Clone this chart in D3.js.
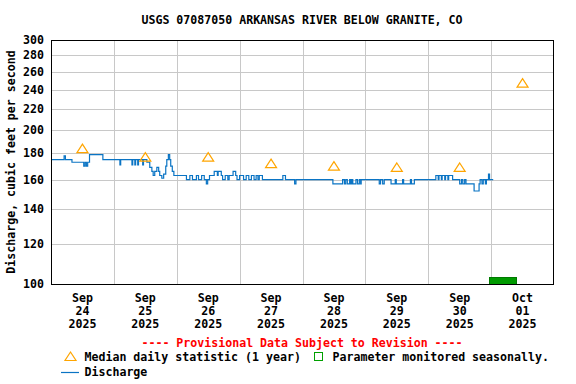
<!DOCTYPE html>
<html>
<head>
<meta charset="utf-8">
<script src="https://cdn.jsdelivr.net/npm/d3@7"></script>
<style>
  body { margin: 0; background: #fff; }
  text { font-family: "DejaVu Sans Mono", monospace; font-weight: bold; font-size: 11.6px; }
</style>
</head>
<body>
<div id="chart"></div>
<script>
const width = 576
const height = 384

// hours since 2025-09-24 00:00, discharge in cfs (step data)
const flowHours = [0,5,5.5,8,12.5,13,13.5,14,14.7,19.8,26.3,26.6,30.9,31.2,32,32.3,33.1,33.4,35,35.3,
  36.6,37.7,38.5,39,39.6,40.4,41.1,41.5,42.3,43,43.8,44.2,44.8,45.3,45.7,46.3,46.9,
  51.7,53,54,55.5,56.3,57.5,58.5,59.3,59.8,60.5,62.3,63.5,63.8,65,65.5,66.5,67.5,68,69.5,70.5,71,
  72,73.5,74.5,75.5,76.5,77.5,78.3,79,79.5,80.7,88.5,89.5,93,93.5,
  107.6,111.3,112,112.5,113.1,114,114.4,114.8,115.2,116.4,117,117.7,118.2,118.4,
  125.3,125.8,126.6,127.2,129.8,131.4,131.8,134.2,134.6,137.2,137.6,138.7,
  146.9,147.8,148.1,149,149.3,150.3,150.6,151.5,151.8,153.3,156,156.7,157.2,157.9,158.4,
  161.5,163.4,163.8,164.5,165,165.8,166.2,167,167.4,168.8]
const flowValues = [175,178,175,173,170,173,170,173,179,175,171,175,171,175,171,175,171,175,171,175,
  173,169,166,163,166,169,166,163,161,164,170,175,179,175,170,166,163,
  160,163,160,163,160,163,160,157,160,163,166,163,166,163,160,163,160,163,166,163,160,
  163,160,163,160,163,160,163,160,163,160,163,160,157,160,
  157,160,157,160,157,160,157,160,157,160,157,160,157,160,
  157,160,157,160,157,160,157,160,157,160,157,160,
  163,160,163,160,163,160,163,160,163,160,157,160,157,160,157,
  152,157,160,157,160,157,160,164,160,160]

const dayLabels = ["Sep|24|2025","Sep|25|2025","Sep|26|2025","Sep|27|2025","Sep|28|2025","Sep|29|2025","Sep|30|2025","Oct|01|2025"]
const medianValues = [184,177,177,172,170,169,169,247]
const yTicks = [100,120,140,160,180,200,220,240,260,280,300]
const seasonalSpan = [167.3, 177.5]   // hours, "parameter monitored seasonally" bar

const t0 = Date.UTC(2025, 8, 24)
const hr = h => new Date(t0 + h * 3600e3)

const plotLeft = 51, plotRight = 553, plotTop = 40, plotBottom = 284

const x = d3.scaleUtc()
  .domain([hr(0), hr(192)])
  .range([plotLeft, 554])

const y = d3.scaleLog()
  .domain([100, 300])
  .range([plotBottom, plotTop])

const svg = d3.select("#chart").append("svg")
  .attr("width", width)
  .attr("height", height)

svg.append("text")
  .attr("x", 302).attr("y", 24)
  .attr("text-anchor", "middle")
  .text("USGS 07087050 ARKANSAS RIVER BELOW GRANITE, CO")

/* grid */
const grid = svg.append("g").attr("shape-rendering", "crispEdges").attr("stroke", "#c8c8c8")
grid.selectAll(".h").data(yTicks.slice(1, -1)).join("line")
  .attr("x1", plotLeft).attr("x2", plotRight)
  .attr("y1", d => Math.round(y(d)) + 0.5).attr("y2", d => Math.round(y(d)) + 0.5)
grid.selectAll(".v").data(d3.range(1, 8)).join("line")
  .attr("y1", plotTop).attr("y2", plotBottom)
  .attr("x1", d => Math.round(x(hr(d * 24))) + 0.5).attr("x2", d => Math.round(x(hr(d * 24))) + 0.5)

/* y labels */
svg.append("g").selectAll("text").data(yTicks).join("text")
  .attr("x", 44).attr("y", d => y(d) + 4)
  .attr("text-anchor", "end")
  .text(d => d)

svg.append("text")
  .attr("transform", "translate(14.5,162) rotate(-90)")
  .attr("text-anchor", "middle")
  .text("Discharge, cubic feet per second")

/* x labels */
const xl = svg.append("g").selectAll("text").data(dayLabels).join("text")
  .attr("text-anchor", "middle")
  .attr("transform", (d, i) => `translate(${x(hr(i * 24 + 12))},0)`)
xl.selectAll("tspan").data(d => d.split("|")).join("tspan")
  .attr("x", 0)
  .attr("y", (d, i) => [302, 314.8, 327.5][i])
  .text(d => d)

/* seasonal bar */
svg.append("rect")
  .attr("x", x(hr(seasonalSpan[0]))).attr("y", 277)
  .attr("width", x(hr(seasonalSpan[1])) - x(hr(seasonalSpan[0])))
  .attr("height", plotBottom - 277)
  .attr("fill", "#009a00")
  .attr("stroke", "#007a00")
  .attr("shape-rendering", "crispEdges")

/* discharge */
const flow = flowHours.map((h, i) => ({ t: hr(h), v: flowValues[i] }))
svg.append("path")
  .datum(flow)
  .attr("fill", "none")
  .attr("stroke", "#0a74c4")
  .attr("stroke-width", 1.2)
  .attr("d", d3.line().x(d => x(d.t)).y(d => y(d.v)).curve(d3.curveStepAfter))

/* median triangles */
const tri = "M0,-4.5L5.5,4L-5.5,4Z"
svg.append("g").selectAll("path").data(medianValues).join("path")
  .attr("transform", (d, i) => `translate(${x(hr(i * 24 + 12))},${y(d)})`)
  .attr("d", tri)
  .attr("fill", "none")
  .attr("stroke", "#ffa500")
  .attr("stroke-width", 1.2)

/* frame */
svg.append("rect")
  .attr("x", plotLeft + 0.5).attr("y", plotTop + 0.5)
  .attr("width", plotRight - plotLeft).attr("height", plotBottom - plotTop)
  .attr("fill", "none").attr("stroke", "#000")
  .attr("shape-rendering", "crispEdges")

/* footer + legend */
svg.append("text")
  .attr("x", 302).attr("y", 346.5)
  .attr("text-anchor", "middle")
  .attr("fill", "#ff0000")
  .text("---- Provisional Data Subject to Revision ----")

svg.append("path")
  .attr("transform", "translate(70.5,356.5)")
  .attr("d", tri)
  .attr("fill", "none").attr("stroke", "#ffa500").attr("stroke-width", 1.2)
svg.append("text").attr("x", 84.5).attr("y", 360.5).text("Median daily statistic (1 year)")

svg.append("rect")
  .attr("x", 314.5).attr("y", 352.5).attr("width", 8).attr("height", 8)
  .attr("fill", "none").attr("stroke", "#00a000").attr("stroke-width", 1.2)
  .attr("shape-rendering", "crispEdges")
svg.append("text").attr("x", 332.5).attr("y", 360.5).text("Parameter monitored seasonally.")

svg.append("line")
  .attr("x1", 61).attr("x2", 79).attr("y1", 372.5).attr("y2", 372.5)
  .attr("stroke", "#0a74c4").attr("stroke-width", 1.2)
svg.append("text").attr("x", 84.5).attr("y", 376).text("Discharge")
</script>
</body>
</html>
